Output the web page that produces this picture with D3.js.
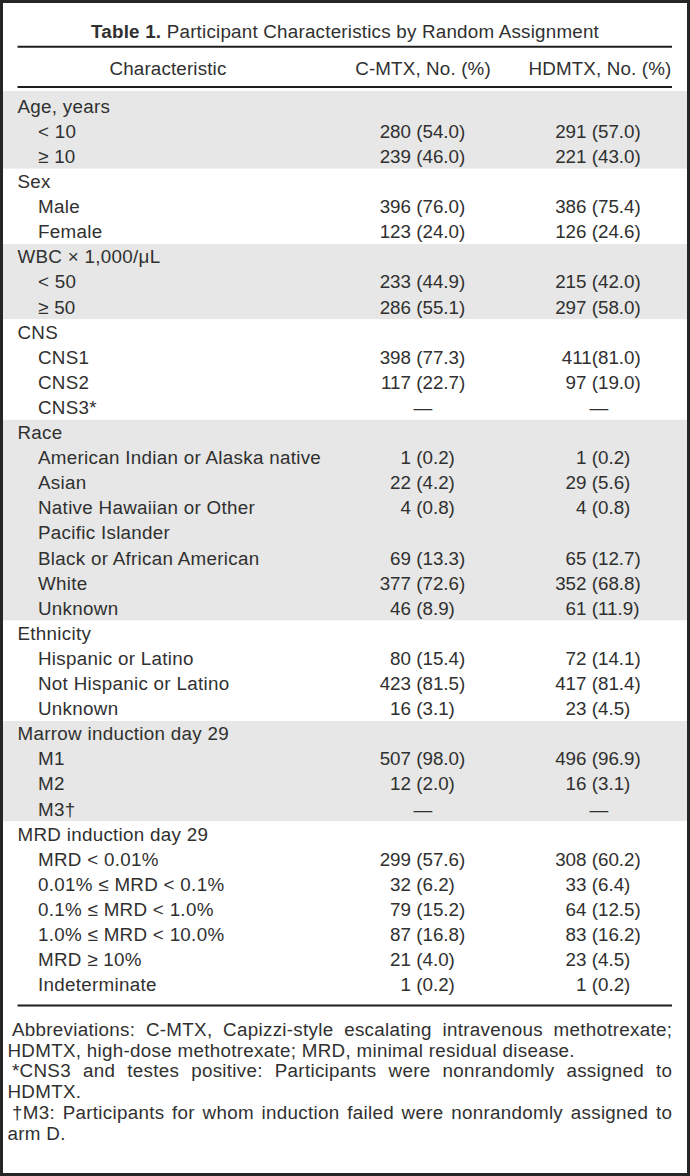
<!DOCTYPE html>
<html>
<head>
<meta charset="utf-8">
<script src="https://cdn.jsdelivr.net/npm/d3@7"></script>
<style>
  body { margin: 0; background: #fff; }
  svg { display: block; }
  text { font-family: "Liberation Sans", Arial, sans-serif; }
</style>
</head>
<body>
<div id="container"></div>
<script>
// table content
const title = ["Table 1.", "Participant Characteristics by Random Assignment"]
const headers = ["Characteristic", "C-MTX, No. (%)", "HDMTX, No. (%)"]
const groups = ["Age, years", "Sex", "WBC \u00d7 1,000/\u03bcL", "CNS", "Race", "Ethnicity", "Marrow induction day 29", "MRD induction day 29"]
const items = [
    ["< 10", "\u2265 10"],
    ["Male", "Female"],
    ["< 50", "\u2265 50"],
    ["CNS1", "CNS2", "CNS3*"],
    ["American Indian or Alaska native", "Asian", "Native Hawaiian or Other\nPacific Islander", "Black or African American", "White", "Unknown"],
    ["Hispanic or Latino", "Not Hispanic or Latino", "Unknown"],
    ["M1", "M2", "M3\u2020"],
    ["MRD < 0.01%", "0.01% \u2264 MRD < 0.1%", "0.1% \u2264 MRD < 1.0%", "1.0% \u2264 MRD < 10.0%", "MRD \u2265 10%", "Indeterminate"]
]
const cmtx = [
    ["280 (54.0)", "239 (46.0)"],
    ["396 (76.0)", "123 (24.0)"],
    ["233 (44.9)", "286 (55.1)"],
    ["398 (77.3)", "117 (22.7)", "\u2014"],
    ["1 (0.2)", "22 (4.2)", "4 (0.8)", "69 (13.3)", "377 (72.6)", "46 (8.9)"],
    ["80 (15.4)", "423 (81.5)", "16 (3.1)"],
    ["507 (98.0)", "12 (2.0)", "\u2014"],
    ["299 (57.6)", "32 (6.2)", "79 (15.2)", "87 (16.8)", "21 (4.0)", "1 (0.2)"]
]
const hdmtx = [
    ["291 (57.0)", "221 (43.0)"],
    ["386 (75.4)", "126 (24.6)"],
    ["215 (42.0)", "297 (58.0)"],
    ["411(81.0)", "97 (19.0)", "\u2014"],
    ["1 (0.2)", "29 (5.6)", "4 (0.8)", "65 (12.7)", "352 (68.8)", "61 (11.9)"],
    ["72 (14.1)", "417 (81.4)", "23 (4.5)"],
    ["496 (96.9)", "16 (3.1)", "\u2014"],
    ["308 (60.2)", "33 (6.4)", "64 (12.5)", "83 (16.2)", "23 (4.5)", "1 (0.2)"]
]
const footnotes = [
    ["Abbreviations: C-MTX, Capizzi-style escalating intravenous methotrexate;", "HDMTX, high-dose methotrexate; MRD, minimal residual disease."],
    ["*CNS3 and testes positive: Participants were nonrandomly assigned to", "HDMTX."],
    ["\u2020M3: Participants for whom induction failed were nonrandomly assigned to", "arm D."]
]

const w = 690, h = 1176, fs = 18.8, ink = "#303030", shade = "#e6e7e6", ls = 0.3
const left = 17.5, right = 672, subIndent = 38
const svg = d3.select("#container").append("svg").attr("width", w).attr("height", h)

// frame
svg.append("rect").attr("width", w).attr("height", h).attr("fill", "#262626")
svg.append("rect").attr("x", 3).attr("y", 3).attr("width", w - 6).attr("height", h - 6).attr("fill", "white")

// flatten rows
let rows = []
groups.forEach((g, gi) => {
    rows.push({ label: g, level: 0, group: gi })
    items[gi].forEach((it, j) => {
        it.split("\n").forEach((line, k) => {
            rows.push({ label: line, level: 1, group: gi, c: k === 0 ? cmtx[gi][j] : null, hd: k === 0 ? hdmtx[gi][j] : null })
        })
    })
})

const pitch = 25.1, firstBase = 112.7
const y = d3.scaleLinear().domain([0, rows.length - 1]).range([firstBase, firstBase + (rows.length - 1) * pitch])
const mid = i => y(i) - 6.7

// shaded bands
const tableTop = 91, tableBottom = 1004.5
groups.forEach((g, gi) => {
    const idx = rows.map((r, i) => r.group === gi ? i : -1).filter(i => i >= 0)
    const top = gi === 0 ? tableTop : mid(idx[0]) - pitch / 2
    const bottom = gi === groups.length - 1 ? tableBottom : mid(idx[idx.length - 1]) + pitch / 2
    svg.append("rect").attr("x", 3).attr("y", top).attr("width", w - 6).attr("height", bottom - top)
        .attr("fill", gi % 2 === 0 ? shade : "white")
})

// rules
const rules = [46.7, 86.9, 1005.5]
svg.selectAll("line.rule").data(rules).enter().append("line").attr("class", "rule")
    .attr("x1", left).attr("x2", right).attr("y1", d => d).attr("y2", d => d)
    .attr("stroke", "#1e1e1e").attr("stroke-width", 2)

// title
const t = svg.append("text").attr("x", w / 2).attr("y", 37.5).attr("text-anchor", "middle")
    .attr("font-size", fs).attr("fill", ink).attr("letter-spacing", 0.22)
t.append("tspan").attr("font-weight", "bold").text(title[0])
t.append("tspan").text(" " + title[1])

// header
const colX = [168, 423, 600]
svg.selectAll("text.head").data(headers).enter().append("text").attr("class", "head")
    .attr("x", (d, i) => colX[i]).attr("y", 75.3).attr("text-anchor", "middle")
    .attr("font-size", fs).attr("fill", ink).attr("letter-spacing", 0.15).text(d => d)

// measuring helper
const probe = svg.append("text").attr("font-size", fs).attr("x", -999).attr("y", -999)
function textW(s, spacing) { probe.attr("letter-spacing", spacing || 0).text(s); return probe.node().getComputedTextLength() }
const spaceW = textW("a a") - textW("aa")

// row labels
svg.selectAll("text.label").data(rows).enter().append("text").attr("class", "label")
    .attr("x", d => d.level === 0 ? left : subIndent).attr("y", (d, i) => y(i))
    .attr("font-size", fs).attr("fill", ink).attr("letter-spacing", ls).text(d => d.label)

// values: count right-aligned on R, percentage after it
const valueCols = [{ key: "c", R: 411, center: 423 }, { key: "hd", R: 586.5, center: 599 }]
valueCols.forEach(col => {
    rows.forEach((r, i) => {
        const v = r[col.key]
        if (!v) return
        const txt = svg.append("text").attr("y", y(i)).attr("font-size", fs).attr("fill", ink).text(v)
        if (v === "\u2014") {
            txt.attr("x", col.center).attr("text-anchor", "middle")
        } else {
            const pct = v.match(/\(.*\)$/)[0]
            txt.attr("x", col.R + spaceW + textW(pct)).attr("text-anchor", "end")
        }
    })
})

// footnotes, justified
const fnLeft = 7.5, fnIndent = 12, fnBase = 1035.7, fnLine = 20.8
let line = 0
footnotes.forEach(par => {
    par.forEach((l, k) => {
        const x0 = k === 0 ? fnIndent : fnLeft
        const yy = fnBase + line * fnLine
        const txt = svg.append("text").attr("y", yy).attr("font-size", fs).attr("fill", ink).attr("letter-spacing", ls)
        if (k === par.length - 1) {
            txt.attr("x", x0).text(l)
        } else {
            const words = l.split(" ")
            const widths = words.map(s => textW(s, ls) - ls)
            const gap = (right - x0 - d3.sum(widths)) / (words.length - 1)
            let x = x0
            words.forEach((wd, wi) => {
                txt.append("tspan").attr("x", x).text(wd)
                x += widths[wi] + gap
            })
        }
        line++
    })
})
probe.remove()
</script>
</body>
</html>
